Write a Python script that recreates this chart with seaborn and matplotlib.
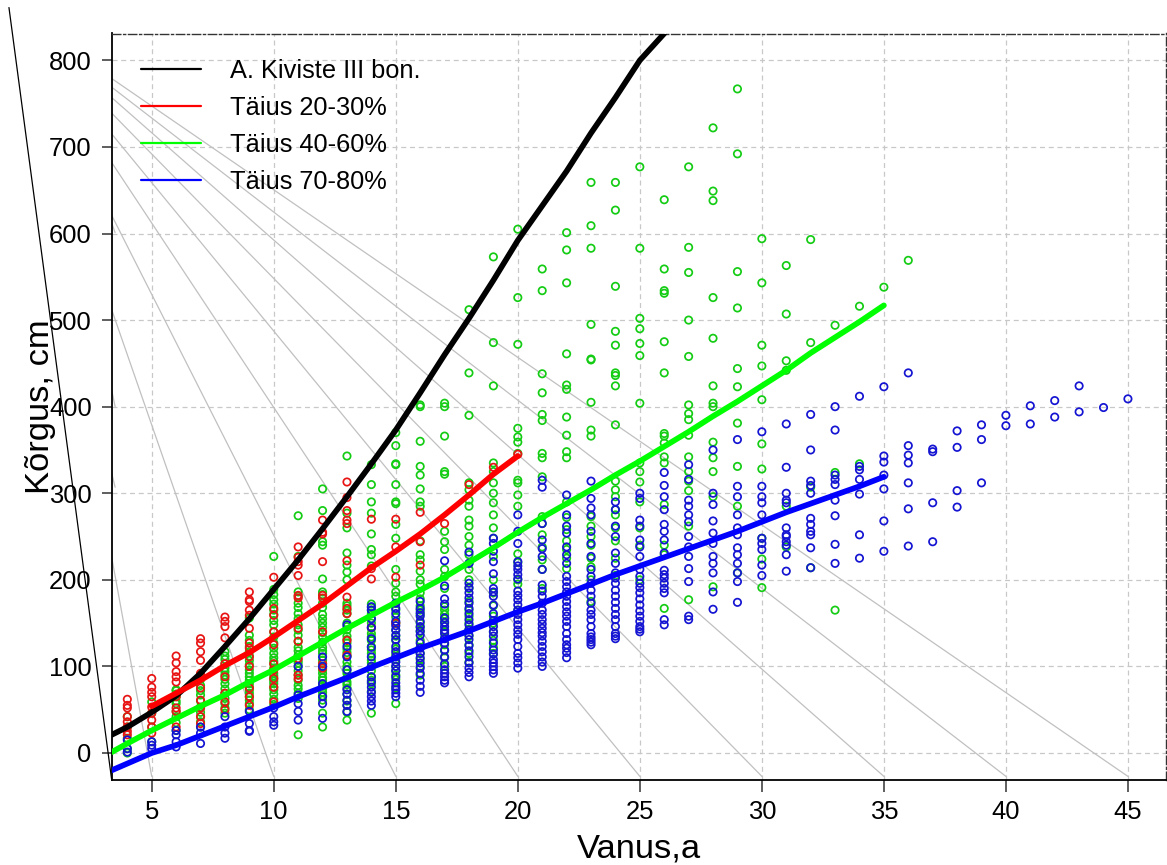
import matplotlib
matplotlib.use("Agg")
import matplotlib.pyplot as plt
from matplotlib.lines import Line2D
import numpy as np
import pandas as pd
import seaborn as sns

# ---- scatter data: observed heights per age ----
green_ages = list(range(4, 37))
green_heights = [
    [42,30,17,5,0],
    [59,46,30,13],
    [73,72,68,65,60,57,48,42,35,26],
    [90,85,78,72,67,60,53,47,42,36,30],
    [117,112,108,103,98,94,90,85,80,74,69,63,57,52,46],
    [156,136,130,123,117,112,107,102,96,92,88,84,80,76,73,69,65,61,57,50],
    [227,189,183,177,172,165,160,153,148,140,134,127,121,115,110,106,103,98,92,89,86,83,80,76,73,68,62,56],
    [274,227,186,181,173,168,161,155,148,142,136,129,122,118,113,107,104,100,95,90,84,78,74,69,63,21],
    [305,280,244,240,201,186,183,173,168,160,155,150,145,139,134,128,122,118,115,107,103,100,96,92,87,84,80,77,74,70,66,61,46,30],
    [343,277,260,231,217,209,200,173,170,165,161,150,146,142,135,131,127,120,116,112,105,100,96,92,87,82,79,75,68,60,55,47,38],
    [333,310,290,277,253,235,229,216,172,168,165,161,155,150,144,138,134,130,123,119,115,107,104,100,95,88,84,80,71,46],
    [370,355,334,333,310,290,288,264,248,212,196,186,181,173,165,157,150,142,135,130,120,114,108,100,95,90,85,75,57],
    [402,400,360,331,321,305,290,285,245,229,223,210,200,195,185,178,170,165,160,150,145,140,130,122,115,108,100,90],
    [404,400,366,325,322,256,244,235,212,204,190,169,165,160,155,150,140,133,125,118,110,100],
    [512,439,390,312,304,292,285,269,262,250,240,229,219,212,200,190,175,165,158,150,143,135,125,115,105],
    [573,474,424,335,325,312,300,289,275,260,248,227,200,185,170,158,150,140,130,122,115],
    [605,526,472,375,365,359,346,315,312,298,285,230,220,200,195,165],
    [559,534,438,416,391,384,346,341,319,273,265,252,238,223,212,190],
    [601,581,543,461,425,420,388,367,348,341,290,272,258,245,235,225,213],
    [659,609,583,495,455,454,405,373,366,273,262,250,240,225,215,200,175],
    [659,627,539,487,471,439,436,424,379,314,304,296,281,275,260,245,225,205],
    [677,583,502,490,473,459,404,335,325,313,290,260,240,200],
    [639,559,534,531,475,439,369,366,358,342,335,287,240,229,167],
    [677,584,555,500,458,402,392,385,367,342,325,314,303,262,177],
    [722,649,638,526,479,424,404,400,359,341,325,296,192],
    [767,692,556,514,444,423,381,331,285,208],
    [594,543,471,447,408,357,328,248,224,191],
    [563,507,453,442,285,238],
    [593,474,307,214],
    [494,324,165],
    [516,334],
    [538],
    [569],
]

red_ages = list(range(4, 21))
red_heights = [
    [62,55,52,42,36,30,25,21],
    [86,76,70,65,53,46,38,30,23],
    [112,104,94,88,82,65,52,48,30],
    [132,127,117,107,92,75,61,52,42,34],
    [157,152,146,133,103,88,69,59,50],
    [186,177,175,165,159,144,127,121,111,100,75,65,55],
    [203,167,159,140,125,103,96,86,76,59],
    [238,226,221,217,205,182,179,144,129,109,90,86],
    [269,255,253,221,182,179,140,103,98],
    [313,295,280,269,265,222,180,167,161,130,113],
    [270,213,201,145],
    [270,238,203,150],
    [278,244,217],
    [265],
    [310],
    [330],
    [345],
]

blue_ages = list(range(4, 46))
blue_heights = [
    [15,5,1],
    [13,9,5],
    [26,21,13,7],
    [30,23,11],
    [42,30,23,17],
    [48,34,26,25],
    [52,42,36,32],
    [100,67,57,48,38],
    [111,100,80,65,57,40],
    [148,123,111,96,73,68,61,55,48],
    [169,165,155,145,132,122,111,100,88,82,76,70,65,60,55],
    [173,167,161,152,147,142,136,131,123,117,111,105,100,95,88,81,77,73,69,65],
    [175,167,162,158,152,146,141,136,127,121,115,110,104,98,92,84,77,70],
    [222,193,178,172,156,151,146,142,138,132,127,119,111,103,96,92,88,84,81],
    [232,219,196,191,185,179,173,167,161,154,148,142,136,131,124,118,111,104,98,93,88],
    [248,242,233,221,207,190,186,181,171,161,153,146,140,135,127,119,114,108,104,100,96,92],
    [275,256,242,221,216,212,206,201,187,182,177,171,165,160,154,148,142,137,131,123,115,110,104,98],
    [315,307,265,246,236,227,212,194,187,181,173,165,160,154,149,144,139,135,129,123,117,111,105,100],
    [298,275,262,254,238,229,219,204,198,192,186,181,175,169,163,158,152,146,138,131,125,121,116,110],
    [314,294,283,275,256,242,227,212,204,196,188,181,173,165,160,154,146,138,134,131,128,125],
    [290,281,262,250,231,219,208,202,196,188,181,174,167,160,154,146,138,135,132],
    [300,294,269,262,246,238,227,212,204,196,191,185,178,171,164,158,152,146,143,140],
    [324,309,296,281,264,256,246,231,211,206,202,196,190,185,154,148],
    [333,316,292,285,275,267,250,238,227,213,198,158,154],
    [350,300,287,268,254,242,227,219,208,186,166],
    [362,308,296,275,260,252,237,229,219,208,198,174],
    [371,308,296,289,275,248,242,235,217,205],
    [380,330,300,292,289,260,252,250,244,240,229,210],
    [391,350,314,309,300,271,264,256,252,237,214],
    [400,373,321,316,310,292,274,241,219],
    [412,331,327,316,299,252,225],
    [423,343,336,321,305,268,233],
    [439,355,344,335,312,282,239],
    [351,348,289,244],
    [372,353,303,284],
    [379,362,312],
    [390,378],
    [401,380],
    [407,388],
    [424,394],
    [399],
    [409],
]

# ---- fitted curves ----
black_age = [3.36,4,5,6,7,8,9,10,11,12,13,14,15,16,17,18,19,20,21,22,23,24,25,26]
black_height = [21,30,47,66,92,123,155,189,223,259,296,334,373,416,460,502,546,592,632,672,716,757,800,831]
red_age = list(range(5, 21))
red_height = [54,69,84,101,116,134,153,172,193,214,233,253,275,298,322,343]
green_age = [3.36,4,5,6,7,8,9,10,11,12,13,14,15,16,17,18,19,20,21,22,23,24,25,26,27,28,29,30,31,32,33,34,35]
green_height = [1,11,26,40,54,67,82,96,112,128,144,159,174,188,203,220,237,255,272,288,304,321,337,354,371,389,406,424,442,462,480,498,517]
blue_age = [3.36,5,6,7,8,9,10,11,12,13,14,15,16,17,18,19,20,21,22,23,24,25,26,27,28,29,30,31,32,33,34,35]
blue_height = [-20,0,9,20,31,42,53,65,76,87,99,110,121,131,141,152,163,173,184,195,206,216,226,236,246,256,267,278,288,298,308,319]

# ---- guide lines ----
guide_start_height = [779,769,757,739,715,682,621,512,226]
guide_end_age = [45,40,35,30,25,20,15,10,5]
stub_start = [612,419,323]
stub_end = [601,400,307]

legend_labels = ["A. Kiviste III bon.", "Täius 20-30%", "Täius 40-60%", "Täius 70-80%"]
x_ticks = [5,10,15,20,25,30,35,40,45]
y_ticks = [0,100,200,300,400,500,600,700,800]
x_lim = (3.36, 46.56)
y_lim = (-31.2, 831)
guide_low = -27
outer_x = [-0.85, 3.36]
outer_y = [861, -31.2]

C_BLACK, C_RED, C_GREEN, C_BLUE = "#000000", "#ff0000", "#00ff00", "#0000ff"
M_RED, M_GREEN, M_BLUE = "#e81414", "#14cc14", "#1414d2"

def long_form(ages, heights):
    return pd.DataFrame({"age": [a for a, h in zip(ages, heights) for _ in h],
                         "height": [v for h in heights for v in h]})

sns.set_theme(style="white")
plt.rcParams["font.family"] = ["Liberation Sans", "DejaVu Sans"]

fig = plt.figure(figsize=(11.67, 8.65), dpi=100)
ax = fig.add_axes([111.7/1167, 1-780/865, (1166-111.7)/1167, (780-33.5)/865])
ax.set_xlim(*x_lim)
ax.set_ylim(*y_lim)

ax.set_axisbelow(True)
ax.grid(True, color="#c8c8c8", linestyle=(0, (4, 3)), linewidth=0.9)

for start, end in zip(guide_start_height, guide_end_age):
    ax.plot([x_lim[0], end], [start, guide_low], color="#c0c0c0", lw=0.9, zorder=1.5)
for a, b in zip(stub_start, stub_end):
    ax.plot([x_lim[0], 3.5], [a, b], color="#c0c0c0", lw=0.9, zorder=1.5)

for ages, heights, col in [(green_ages, green_heights, M_GREEN),
                           (red_ages, red_heights, M_RED),
                           (blue_ages, blue_heights, M_BLUE)]:
    sns.scatterplot(data=long_form(ages, heights), x="age", y="height", ax=ax, marker="o",
                    s=28, facecolors="none", edgecolor=col, linewidth=1.25, legend=False, zorder=3)

for xs, ys, col in [(black_age, black_height, C_BLACK),
                    (red_age, red_height, C_RED),
                    (green_age, green_height, C_GREEN),
                    (blue_age, blue_height, C_BLUE)]:
    sns.lineplot(x=xs, y=ys, ax=ax, color=col, linewidth=4.1, legend=False, zorder=4,
                 estimator=None, sort=False, solid_capstyle="round")

ax.plot(outer_x, outer_y, color="black", lw=0.9, clip_on=False, zorder=5)

ax.set_xticks(x_ticks)
ax.set_yticks(y_ticks)
ax.tick_params(axis="both", which="major", width=1.1, color="#333333",
               labelsize=18.4, labelcolor="black", bottom=True, left=True)
ax.tick_params(axis="x", length=8.5, pad=6)
ax.tick_params(axis="y", length=7.2, pad=7.2)

ax.spines["left"].set(color="black", linewidth=1.3)
ax.spines["bottom"].set(color="black", linewidth=1.3)
for s in ("top", "right"):
    ax.spines[s].set(color="#333333", linewidth=1.0, linestyle=(0, (6, 2, 1.5, 2)), visible=True)

ax.set_xlabel("Vanus,a", fontsize=24.8, color="black", labelpad=6.5)
ax.set_ylabel("Kõrgus, cm", fontsize=24.8, color="black", labelpad=-5.2)

handles = [Line2D([], [], color=c, lw=1.6) for c in (C_BLACK, C_RED, C_GREEN, C_BLUE)]
leg = ax.legend(handles, legend_labels, loc="upper left", bbox_to_anchor=(0.0, 1.005), frameon=False,
                fontsize=18.3, handlelength=2.36, handletextpad=1.14, labelspacing=0.51,
                borderaxespad=0.3, borderpad=0.85)
for t in leg.get_texts():
    t.set_color("black")

fig.savefig("out.png", dpi=100, facecolor="white")
